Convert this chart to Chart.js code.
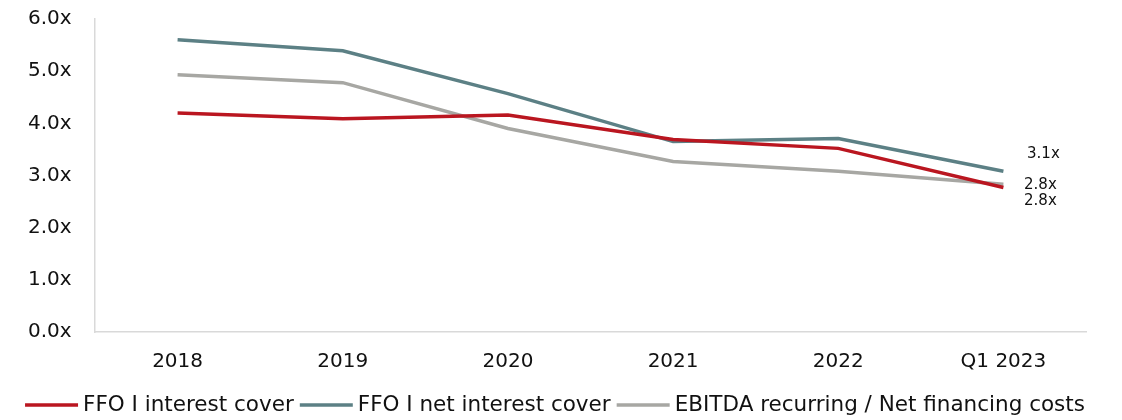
<!DOCTYPE html>
<html lang="en">
<head>
<meta charset="UTF-8">
<script src="https://cdn.jsdelivr.net/npm/chart.js"></script>
<style>
  body { margin: 0; background: #fff; }
  #box { width: 1122px; height: 420px; }
</style>
</head>
<body>
<div id="box"><canvas id="cover"></canvas></div>
<script>
// data
const categories = ['2018', '2019', '2020', '2021', '2022', 'Q1 2023'];
const ffoInterest = [4.20, 4.09, 4.16, 3.69, 3.52, 2.77];
const ffoNetInterest = [5.60, 5.39, 4.57, 3.65, 3.71, 3.08];
const ebitdaNetFin = [4.93, 4.78, 3.90, 3.27, 3.08, 2.83];
const yTicks = [0, 1, 2, 3, 4, 5, 6];

// last-point labels (dx, dy offsets in px)
const endLabels = [
  { series: 0, dx: 37, dy: 14 },
  { series: 1, dx: 40, dy: -17 },
  { series: 2, dx: 37, dy: 1 }
];

const endLabelPlugin = {
  id: 'endLabels',
  afterDatasetsDraw(chart) {
    const c = chart.ctx;
    c.save();
    c.font = '15px "DejaVu Sans"';
    c.fillStyle = '#111';
    c.textAlign = 'center';
    c.textBaseline = 'middle';
    endLabels.forEach(l => {
      const pt = chart.getDatasetMeta(l.series).data[categories.length - 1];
      const v = chart.data.datasets[l.series].data[categories.length - 1];
      c.fillText(v.toFixed(1) + 'x', pt.x + l.dx, pt.y + l.dy);
    });
    c.restore();
  }
};

// legend drawn by hand so it stays on one row like the original
const lineLegend = {
  id: 'lineLegend',
  afterDraw(chart) {
    const c = chart.ctx;
    const sets = chart.data.datasets;
    const lineW = 53, gap = 5, between = 6, y = 405;
    c.save();
    c.font = '21.5px "DejaVu Sans"';
    c.textBaseline = 'middle';
    c.textAlign = 'left';
    let total = 0;
    sets.forEach((ds, i) => {
      total += lineW + gap + c.measureText(ds.label).width + (i < sets.length - 1 ? between : 0);
    });
    let x = 555 - total / 2;
    sets.forEach(ds => {
      c.strokeStyle = ds.borderColor;
      c.lineWidth = 3.5;
      c.beginPath();
      c.moveTo(x, y);
      c.lineTo(x + lineW, y);
      c.stroke();
      x += lineW + gap;
      c.fillStyle = '#111';
      c.fillText(ds.label, x, y);
      x += c.measureText(ds.label).width + between;
    });
    c.restore();
  }
};

new Chart(document.getElementById('cover'), {
  type: 'line',
  data: {
    labels: categories,
    datasets: [
      { label: 'FFO I interest cover', data: ffoInterest, borderColor: '#BA1620', backgroundColor: '#BA1620' },
      { label: 'FFO I net interest cover', data: ffoNetInterest, borderColor: '#5C8085', backgroundColor: '#5C8085' },
      { label: 'EBITDA recurring / Net financing costs', data: ebitdaNetFin, borderColor: '#A7A7A3', backgroundColor: '#A7A7A3' }
    ]
  },
  options: {
    responsive: true,
    maintainAspectRatio: false,
    animation: false,
    elements: {
      line: { borderWidth: 3.5, tension: 0 },
      point: { radius: 0 }
    },
    layout: { padding: { left: 28, right: 36, top: 0, bottom: 28 } },
    plugins: {
      tooltip: { enabled: false },
      legend: { display: false }
    },
    scales: {
      x: {
        offset: true,
        grid: { display: false, drawTicks: false },
        border: { color: '#d9d9d9', width: 1.5 },
        ticks: { color: '#111', padding: 18, font: { family: '"DejaVu Sans"', size: 20 } }
      },
      y: {
        min: 0,
        max: 6,
        afterBuildTicks(axis) { axis.ticks = yTicks.map(v => ({ value: v })); },
        afterFit(axis) { axis.width = 67; },
        grid: { display: false, drawTicks: false },
        border: { color: '#d9d9d9', width: 1.5 },
        ticks: {
          color: '#111',
          padding: 7,
          crossAlign: 'far',
          font: { family: '"DejaVu Sans"', size: 20 },
          callback: v => v.toFixed(1) + 'x'
        }
      }
    }
  },
  plugins: [endLabelPlugin, lineLegend]
});
</script>
</body>
</html>
